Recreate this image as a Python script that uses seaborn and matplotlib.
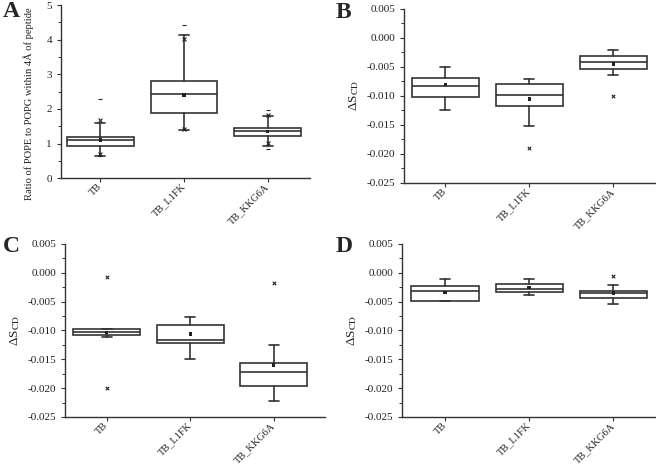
import numpy as np
import pandas as pd
import matplotlib
matplotlib.use("Agg")
import matplotlib.pyplot as plt
import seaborn as sns
from matplotlib.ticker import MultipleLocator, FuncFormatter

groups = ["TB", "TB_L1FK", "TB_KKG6A"]

# panel A: ratio of POPE to POPG
A_q1 = [0.92, 1.87, 1.23]
A_med = [1.09, 2.43, 1.35]
A_q3 = [1.19, 2.80, 1.46]
A_lo = [0.64, 1.38, 0.92]
A_hi = [1.60, 4.13, 1.79]
A_mean = [1.10, 2.41, 1.35]
A_p01 = [0.70, 1.42, 1.03]
A_p99 = [1.68, 4.02, 1.83]
A_min = [0.63, 1.38, 0.85]
A_max = [2.29, 4.42, 1.97]

# panel B: delta S_CD
B_q1 = [-0.0102, -0.0118, -0.0053]
B_med = [-0.0083, -0.0098, -0.0042]
B_q3 = [-0.0069, -0.0079, -0.0031]
B_lo = [-0.0124, -0.0152, -0.0064]
B_hi = [-0.0051, -0.0070, -0.0021]
B_mean = [-0.0080, -0.0105, -0.0045]
B_out = [[], [-0.0189], [-0.0100]]

# panel C
C_q1 = [-0.0108, -0.0122, -0.0196]
C_med = [-0.0103, -0.0117, -0.0172]
C_q3 = [-0.0098, -0.0090, -0.0157]
C_lo = [-0.0111, -0.0149, -0.0222]
C_hi = [-0.0098, -0.0076, -0.0126]
C_mean = [-0.0104, -0.0106, -0.0160]
C_out = [[-0.0007, -0.0200], [], [-0.0018]]

# panel D
D_q1 = [-0.0049, -0.0033, -0.0044]
D_med = [-0.0032, -0.0028, -0.0036]
D_q3 = [-0.0023, -0.0020, -0.0032]
D_lo = [-0.0049, -0.0039, -0.0054]
D_hi = [-0.0011, -0.0011, -0.0022]
D_mean = [-0.0034, -0.0026, -0.0035]
D_out = [[], [], [-0.0005]]

sns.set_style("ticks")
plt.rcParams["font.family"] = ["Liberation Serif", "DejaVu Serif"]
plt.rcParams["mathtext.fontset"] = "stix"
plt.rcParams["axes.unicode_minus"] = False

col = "#333333"
dark = "#222222"


def draw_panel(ax, q1, med, q3, lo, hi, mean, xlim):
    stats = []
    for i in range(len(groups)):
        stats.append(dict(q1=q1[i], med=med[i], q3=q3[i], whislo=lo[i],
                          whishi=hi[i], fliers=[], label=groups[i]))
    ax.bxp(stats, positions=range(len(groups)), widths=0.8, showfliers=False,
           patch_artist=True,
           boxprops=dict(facecolor="white", edgecolor=col, linewidth=1.2),
           medianprops=dict(color=col, linewidth=1.2),
           whiskerprops=dict(color=col, linewidth=1.2),
           capprops=dict(color=col, linewidth=1.2), capwidths=0.12)
    dm = pd.DataFrame({"x": range(len(groups)), "y": mean})
    sns.scatterplot(data=dm, x="x", y="y", marker="s", s=6, color=dark,
                    edgecolor="none", ax=ax, zorder=5, legend=False)
    ax.set_xlim(*xlim)
    ax.set_xticks(range(len(groups)))
    ax.set_xticklabels(groups, rotation=45, ha="right", va="center",
                       rotation_mode="anchor", fontsize=7.5)
    sns.despine(ax=ax)
    for s in ["left", "bottom"]:
        ax.spines[s].set_color(col)
        ax.spines[s].set_linewidth(1.0)
    ax.tick_params(axis="both", colors=col, labelcolor=dark, direction="out",
                   length=3, width=0.8, labelsize=8)
    ax.tick_params(axis="x", labelsize=7.5, pad=2)
    ax.tick_params(axis="y", which="minor", direction="out", length=2,
                   width=0.7, colors=col)


def extra(ax, xs, ys, marker, size):
    if len(ys) == 0:
        return
    d = pd.DataFrame({"x": xs, "y": ys})
    sns.scatterplot(data=d, x="x", y="y", marker=marker, s=size, color=dark,
                    linewidth=0.8, ax=ax, zorder=5, legend=False)


def fmt3(v, p):
    v = round(v, 4)
    if abs(v) < 1e-9:
        v = 0.0
    return "%.3f" % v


fig = plt.figure(figsize=(6.56, 4.69), dpi=100)
axA = fig.add_axes([0.093, 0.620, 0.380, 0.369])
axB = fig.add_axes([0.616, 0.610, 0.383, 0.371])
axC = fig.add_axes([0.099, 0.111, 0.396, 0.369])
axD = fig.add_axes([0.613, 0.111, 0.386, 0.369])

# A
draw_panel(axA, A_q1, A_med, A_q3, A_lo, A_hi, A_mean, (-0.47, 2.51))
pos = list(range(len(groups)))
extra(axA, pos + pos, A_p01 + A_p99, "x", 8)
extra(axA, pos + pos, A_min + A_max, "_", 8)
axA.set_ylim(0, 5)
axA.yaxis.set_major_locator(MultipleLocator(1))
axA.yaxis.set_minor_locator(MultipleLocator(0.5))
axA.set_xlabel("")
axA.set_ylabel("Ratio of POPE to POPG within 4Å of peptide", fontsize=7.6,
               color=dark)
axA.yaxis.set_label_coords(-0.11, 0.43)

panels = [(axB, B_q1, B_med, B_q3, B_lo, B_hi, B_mean, B_out, (-0.49, 2.5)),
          (axC, C_q1, C_med, C_q3, C_lo, C_hi, C_mean, C_out, (-0.5, 2.61)),
          (axD, D_q1, D_med, D_q3, D_lo, D_hi, D_mean, D_out, (-0.51, 2.5))]
for ax, q1, med, q3, lo, hi, mean, out, xl in panels:
    draw_panel(ax, q1, med, q3, lo, hi, mean, xl)
    ox, oy = [], []
    for i, vals in enumerate(out):
        for v in vals:
            ox.append(i)
            oy.append(v)
    extra(ax, ox, oy, "x", 6)
    ax.set_ylim(-0.025, 0.005)
    ax.yaxis.set_major_locator(MultipleLocator(0.005))
    ax.yaxis.set_minor_locator(MultipleLocator(0.0025))
    ax.yaxis.set_major_formatter(FuncFormatter(fmt3))
    ax.set_xlabel("")
    ax.set_ylabel(r"ΔS$_{\mathrm{CD}}$", fontsize=9.5, labelpad=4, color=dark)

fig.text(0.004, 0.998, "A", fontsize=17, fontweight="bold", va="top", ha="left")
fig.text(0.512, 0.995, "B", fontsize=17, fontweight="bold", va="top", ha="left")
fig.text(0.004, 0.496, "C", fontsize=17, fontweight="bold", va="top", ha="left")
fig.text(0.512, 0.496, "D", fontsize=17, fontweight="bold", va="top", ha="left")

fig.savefig("out.png", dpi=100)
